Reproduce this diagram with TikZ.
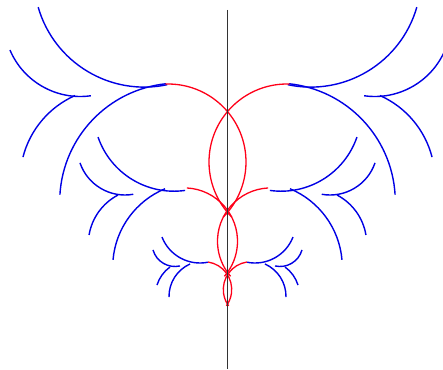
\documentclass[tikz,border=0pt]{standalone}
\usepackage{tikz}
\usetikzlibrary{calc}

\begin{document}
\begin{tikzpicture}[
    x=1pt, y=-1pt,
    branch/.style={blue!90!black, line width=1.4pt},
    lens/.style={red!90!magenta, line width=1.3pt},
    mirrorline/.style={black!80, line width=1.6pt}
]

\useasboundingbox[fill=white] (-227.5,0) rectangle (215.5,369);

% symmetry axis
\coordinate (axtop) at (0,10);
\coordinate (axbot) at (0,369);

% left branches
\draw[branch] (-83.2,-23.3) ++(78:110.4) arc[start angle=78, end angle=164, radius=110.4];
\draw[branch] (-49.1,201.8) ++(183.5:118.7) arc[start angle=183.5, end angle=264, radius=118.7];
\draw[branch] (-147.3,20.2) ++(82:76.3) arc[start angle=82, end angle=157, radius=76.3];
\draw[branch] (-114.7,180.3) ++(194.5:92.8) arc[start angle=194.5, end angle=246, radius=92.8];
\draw[branch] (-53.6,111) ++(82:80.2) arc[start angle=82, end angle=161, radius=80.2];
\draw[branch] (-29.8,267.2) ++(185:85) arc[start angle=185, end angle=247.4, radius=85];
\draw[branch] (-102.5,147.4) ++(80:47.6) arc[start angle=80, end angle=161, radius=47.6];
\draw[branch] (-83.8,244.1) ++(189.5:55.4) arc[start angle=189.5, end angle=242.3, radius=55.4];
\draw[branch] (-27.5,222.2) ++(78.7:40.8) arc[start angle=78.7, end angle=158.7, radius=40.8];
\draw[branch] (-23,296.4) ++(179:35.5) arc[start angle=179, end angle=246, radius=35.5];
\draw[branch] (-52.5,243.6) ++(77.4:22.9) arc[start angle=77.4, end angle=163.8, radius=22.9];
\draw[branch] (-37,295.5) ++(197.4:35.1) arc[start angle=197.4, end angle=234.3, radius=35.1];

% right branches
\draw[branch] (83.2,-23.3) ++(102:110.4) arc[start angle=102, end angle=16, radius=110.4];
\draw[branch] (49.1,201.8) ++(-3.5:118.7) arc[start angle=-3.5, end angle=-84, radius=118.7];
\draw[branch] (147.3,20.2) ++(98:76.3) arc[start angle=98, end angle=23, radius=76.3];
\draw[branch] (114.7,180.3) ++(-14.5:92.8) arc[start angle=-14.5, end angle=-66, radius=92.8];
\draw[branch] (53.6,111) ++(98:80.2) arc[start angle=98, end angle=19, radius=80.2];
\draw[branch] (29.8,267.2) ++(-5:85) arc[start angle=-5, end angle=-67.4, radius=85];
\draw[branch] (102.5,147.4) ++(100:47.6) arc[start angle=100, end angle=19, radius=47.6];
\draw[branch] (83.8,244.1) ++(-9.5:55.4) arc[start angle=-9.5, end angle=-62.3, radius=55.4];
\draw[branch] (27.5,222.2) ++(101.3:40.8) arc[start angle=101.3, end angle=21.3, radius=40.8];
\draw[branch] (23,296.4) ++(1:35.5) arc[start angle=1, end angle=-66, radius=35.5];
\draw[branch] (52.5,243.6) ++(102.6:22.9) arc[start angle=102.6, end angle=16.2, radius=22.9];
\draw[branch] (37,295.5) ++(-17.4:35.1) arc[start angle=-17.4, end angle=-54.3, radius=35.1];

% lenses on the axis
\draw[lens] (-59.5,162) ++(-92:78) arc[start angle=-92, end angle=45, radius=78];
\draw[lens] (59.5,162) ++(272:78) arc[start angle=272, end angle=135, radius=78];
\draw[lens] (-43.4,241.3) ++(-87:53.4) arc[start angle=-87, end angle=41, radius=53.4];
\draw[lens] (43.4,241.3) ++(267:53.4) arc[start angle=267, end angle=139, radius=53.4];
\draw[lens] (-23.6,289.5) ++(-81.5:27.8) arc[start angle=-81.5, end angle=36, radius=27.8];
\draw[lens] (23.6,289.5) ++(261.5:27.8) arc[start angle=261.5, end angle=144, radius=27.8];

\draw[mirrorline] (axtop) -- (axbot);

\end{tikzpicture}
\end{document}
